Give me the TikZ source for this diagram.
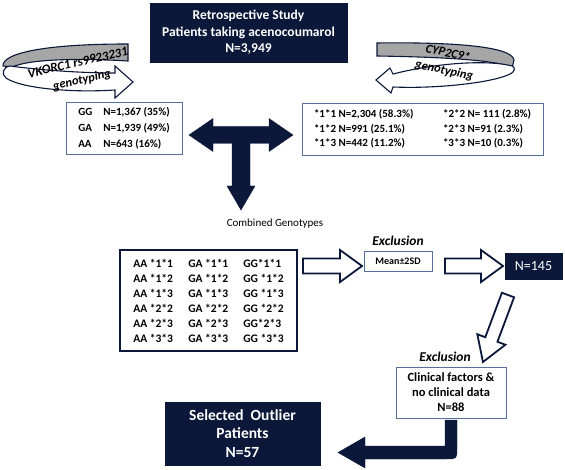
\documentclass[tikz,border=0pt]{standalone}
\usepackage{fontspec}
\setmainfont{Carlito}
\definecolor{navy}{RGB}{12,24,58}
\definecolor{boxblue}{RGB}{84,112,150}
\definecolor{ribgrey}{RGB}{166,166,166}
\newcommand\hollowarrow[7]{%
  \begin{scope}[shift={(#1,#2)},rotate=#3]
    \draw[hollow] (0,-#5) -- ({#4-#7},-#5) -- ({#4-#7},-#6) -- (#4,0) -- ({#4-#7},#6) -- ({#4-#7},#5) -- (0,#5) -- cycle;
  \end{scope}}
\begin{document}
\begin{tikzpicture}[x=1pt,y=-1pt,
  navybox/.style={fill=navy, draw=navy, text=white, align=center, inner sep=0pt},
  thinbox/.style={draw=boxblue, line width=0.8pt, fill=white, inner sep=0pt},
  hollow/.style={draw=navy, line width=1.8pt, fill=white, line join=miter},
  solidarrow/.style={fill=navy, draw=navy, line width=0.4pt, line join=miter},
  ribg/.style={fill=ribgrey, draw=navy, line width=1.1pt},
  ribw/.style={fill=white, draw=navy, line width=1.1pt},
  exlbl/.style={font=\fontsize{13.5}{15}\selectfont\bfseries\itshape, inner sep=0pt},
  riblbl/.style={font=\fontsize{12.5}{17.5}\selectfont\bfseries\itshape, inner sep=0pt, align=center}]
\useasboundingbox (0,0) rectangle (565,470);
\fill[white] (0,0) rectangle (565,470);

% top box
\node[navybox, minimum width=197pt, minimum height=59pt,
  font=\fontsize{13.5}{16.5}\selectfont\bfseries] (study) at (248.5,32.5)
  {Retrospective Study\\Patients taking acenocoumarol\\N=3,949};

% left ribbon (VKORC1)
\draw[ribg] (128,44) -- (128,61) .. controls (80,58) and (30,59) .. (12,67)
  -- (3,66) .. controls (2,54) and (40,44) .. (128,44) -- cycle;
\draw[ribw] (10,66) .. controls (40,70) and (80,73) .. (115,73) -- (115,66) -- (133,82)
  -- (115,98) -- (115,90) .. controls (70,93) and (20,88) .. (6,78)
  .. controls (1,74) and (3,67) .. (10,66) -- cycle;
\node[riblbl, rotate=13] (vk) at (80,72) {{\fontsize{13}{17.5}\selectfont VKORC1 rs9923231}\\genotyping};

% right ribbon (CYP2C9)
\draw[ribg] (377,43) .. controls (450,42) and (512,46) .. (514,60) -- (512,68)
  .. controls (500,60) and (440,57) .. (377,56) -- cycle;
\draw[ribw] (512,66) .. controls (490,60) and (440,62) .. (393,74) -- (390,68) -- (376,80)
  -- (391,93) -- (393,87) .. controls (440,89) and (495,82) .. (510,74)
  .. controls (516,71) and (515,67) .. (512,66) -- cycle;
\node[riblbl, rotate=-12] (cyp) at (446,62) {CYP2C9*\\genotyping};

% genotype boxes
\node[thinbox, minimum width=116pt, minimum height=52pt, align=left,
  font=\fontsize{11}{16}\selectfont\bfseries] (lbox) at (124,128)
  {\makebox[25pt][l]{GG}N=1,367 (35\%)\\\makebox[25pt][l]{GA}N=1,939 (49\%)\\\makebox[25pt][l]{AA}N=643 (16\%)};
\node[thinbox, minimum width=241pt, minimum height=52pt, align=left,
  font=\fontsize{11}{14.5}\selectfont\bfseries] (rbox) at (422.5,129)
  {\makebox[129pt][l]{*1*1 N=2,304 (58.3\%)}*2*2 N= 111 (2.8\%)\\
   \makebox[129pt][l]{*1*2 N=991 (25.1\%)}*2*3 N=91 (2.3\%)\\
   \makebox[129pt][l]{*1*3 N=442 (11.2\%)}*3*3 N=10 (0.3\%)};

% T arrow
\fill[solidarrow] (189,135) -- (213,118.5) -- (213,126.5) -- (269,126.5) -- (269,118.5)
  -- (293,135) -- (269,151.5) -- (269,143.5) -- (250,143.5) -- (250,186) -- (255,186)
  -- (241,210) -- (227,186) -- (232,186) -- (232,143.5) -- (213,143.5) -- (213,151.5) -- cycle;

\node[font=\fontsize{11}{13}\selectfont, inner sep=0pt] (cglbl) at (275,224) {Combined Genotypes};

% combined box
\node[draw=navy, line width=2pt, fill=white, minimum width=177pt, minimum height=101pt,
  inner sep=0pt, align=left, font=\fontsize{11.5}{15}\selectfont\bfseries] (comb) at (208.5,300.5)
  {\makebox[55pt][l]{AA *1*1}\makebox[55pt][l]{GA *1*1}GG*1*1\\
   \makebox[55pt][l]{AA *1*2}\makebox[55pt][l]{GA *1*2}GG *1*2\\
   \makebox[55pt][l]{AA *1*3}\makebox[55pt][l]{GA *1*3}GG *1*3\\
   \makebox[55pt][l]{AA *2*2}\makebox[55pt][l]{GA *2*2}GG *2*2\\
   \makebox[55pt][l]{AA *2*3}\makebox[55pt][l]{GA *2*3}GG*2*3\\
   \makebox[55pt][l]{AA *3*3}\makebox[55pt][l]{GA *3*3}GG *3*3};

% exclusion 1
\node[exlbl] (ex1) at (398,241) {Exclusion};
\node[thinbox, minimum width=68pt, minimum height=20pt,
  font=\fontsize{10}{12}\selectfont\bfseries] (mean) at (398,261) {Mean±2SD};
\node[navybox, minimum width=57pt, minimum height=26pt,
  font=\fontsize{14}{16}\selectfont] (n145) at (533.5,266) {N=145};

\hollowarrow{303}{266}{0}{59}{7.5}{16}{22}
\hollowarrow{445}{266}{0}{58}{7.5}{16}{22}
\hollowarrow{508}{295}{-110.5}{71.5}{6.5}{15}{24}

% exclusion 2
\node[exlbl] (ex2) at (445,357) {Exclusion};
\node[thinbox, minimum width=110pt, minimum height=51pt, align=center,
  font=\fontsize{12.5}{15}\selectfont\bfseries] (clin) at (451,392.5)
  {Clinical factors \&\\no clinical data\\N=88};

% final box
\node[navybox, minimum width=155pt, minimum height=63pt,
  font=\fontsize{15.5}{18.5}\selectfont\bfseries] (sel) at (242.5,433.5)
  {Selected\ \ Outlier\\Patients\\N=57};

% bent arrow
\fill[solidarrow] (445,420) -- (457,420) -- (457,448) .. controls (457,459) and (457,459) .. (446,459)
  -- (365,459) -- (365,468) -- (338,452.5) -- (365,437) -- (365,446) -- (445,446) -- cycle;
\end{tikzpicture}
\end{document}
